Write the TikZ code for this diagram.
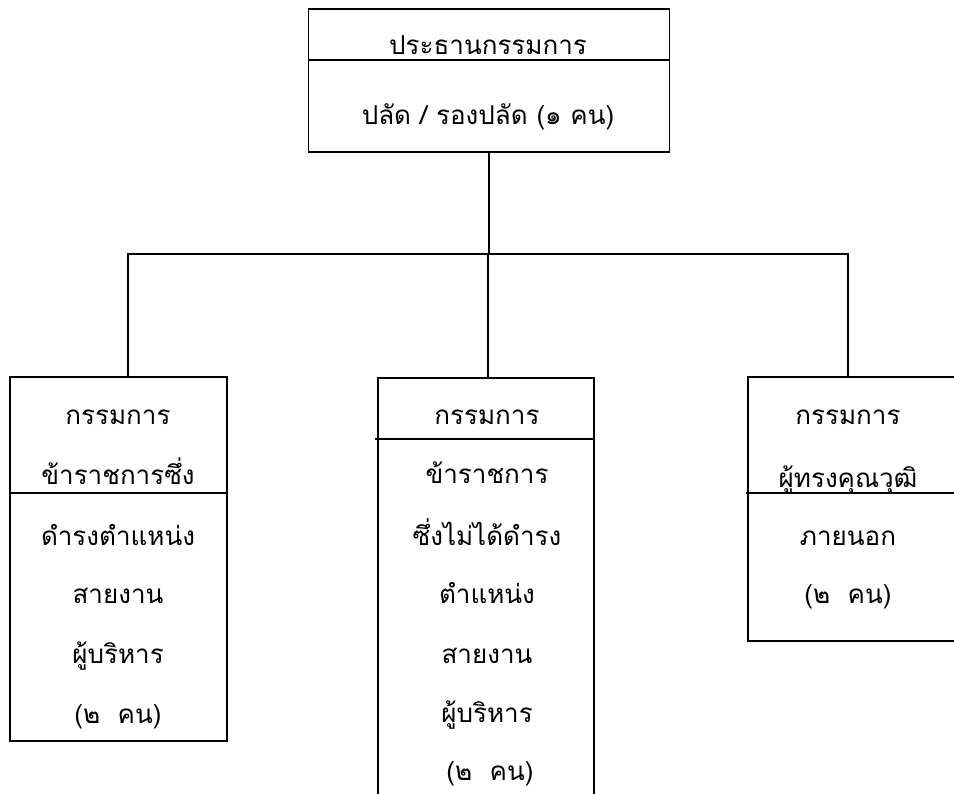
\documentclass[tikz,border=0pt]{standalone}
\usepackage{fontspec}
\newfontfamily\thaifont[Script=Thai]{Loma}
\tikzset{
  box/.style={draw, line width=1.8pt, rectangle, inner sep=0pt},
  conn/.style={line width=1.8pt},
  divline/.style={line width=1.8pt},
  lbl/.style={anchor=base, inner sep=0pt, font=\thaifont\fontsize{26}{30}\selectfont}
}
\begin{document}
\begin{tikzpicture}[x=1pt,y=-1pt]
\clip (0,0) rectangle (954,794);
\fill[white] (0,0) rectangle (954,794);
% boxes
\node[box, minimum width=361pt, minimum height=143pt] (top) at (489,80.5) {};
\node[box, minimum width=217pt, minimum height=364pt] (L) at (118.5,559) {};
\node[box, minimum width=216pt, minimum height=430pt] (M) at (486,593) {};
\node[box, minimum width=214pt, minimum height=264pt] (R) at (855,509) {};
% dividers
\draw[divline] (top.west |- 0,60) -- (top.east |- 0,60);
\draw[divline] (L.west |- 0,493) -- (L.east |- 0,493);
\draw[divline] ([xshift=-2pt]M.west |- 0,439) -- (M.east |- 0,439);
\draw[divline] ([xshift=-1pt]R.west |- 0,493) -- (R.east |- 0,493);
% connectors
\coordinate (bus) at (489,254);
\coordinate (lc) at (128,377);
\coordinate (mc) at (488,378);
\coordinate (rc) at (848,377);
\draw[conn] (top.south) -- (bus);
\draw[conn] (lc) -- (lc |- bus) -- (rc |- bus) -- (rc);
\draw[conn] (mc) -- (mc |- bus);
% top texts
\node[lbl] (t1) at (488,55) {ประธานกรรมการ};
\node[lbl] (t2) at (488,125) {ปลัด / รองปลัด (๑ คน)};
% left texts
\node[lbl] (l1) at (118,425) {กรรมการ};
\node[lbl] (l2) at (118,485) {ข้าราชการซึ่ง};
\node[lbl] (l3) at (118,545) {ดำรงตำแหน่ง};
\node[lbl] (l4) at (118,603) {สายงาน};
\node[lbl] (l5) at (118,663) {ผู้บริหาร};
\node[lbl] (l6) at (118,723) {(๒~~คน)};
% middle texts
\node[lbl] (m1) at (487,425) {กรรมการ};
\node[lbl] (m2) at (487,483) {ข้าราชการ};
\node[lbl] (m3) at (487,545) {ซึ่งไม่ได้ดำรง};
\node[lbl] (m4) at (487,603) {ตำแหน่ง};
\node[lbl] (m5) at (487,663) {สายงาน};
\node[lbl] (m6) at (487,722) {ผู้บริหาร};
\node[lbl] (m7) at (490,780) {(๒~~คน)};
% right texts
\node[lbl] (r1) at (848,425) {กรรมการ};
\node[lbl] (r2) at (848,487) {ผู้ทรงคุณวุฒิ};
\node[lbl] (r3) at (848,545) {ภายนอก};
\node[lbl] (r4) at (848,603) {(๒~~คน)};
\end{tikzpicture}
\end{document}
